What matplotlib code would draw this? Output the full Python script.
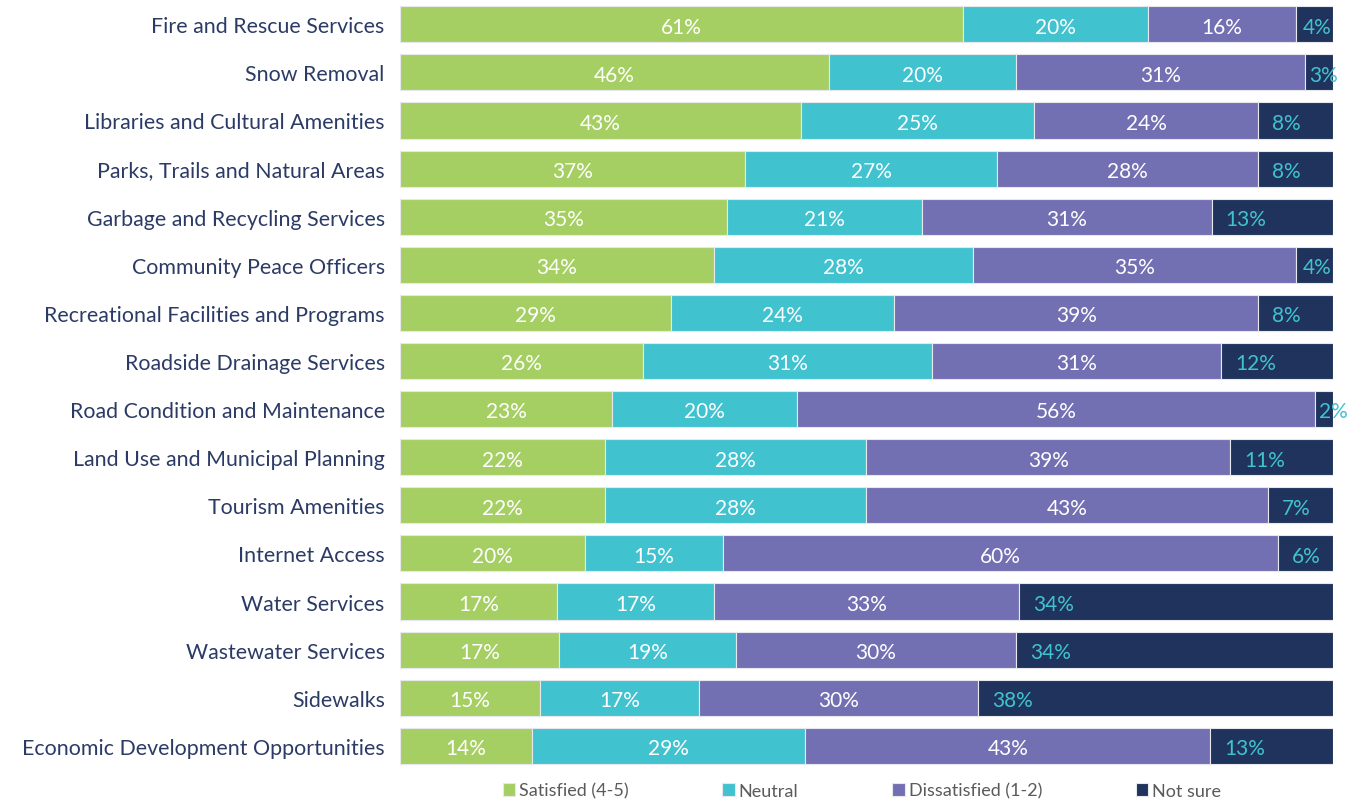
import numpy as np
import matplotlib.pyplot as plt

plt.rcParams['font.family'] = ['Lato', 'DejaVu Sans']

services = [
    "Fire and Rescue Services",
    "Snow Removal",
    "Libraries and Cultural Amenities",
    "Parks, Trails and Natural Areas",
    "Garbage and Recycling Services",
    "Community Peace Officers",
    "Recreational Facilities and Programs",
    "Roadside Drainage Services",
    "Road Condition and Maintenance",
    "Land Use and Municipal Planning",
    "Tourism Amenities",
    "Internet Access",
    "Water Services",
    "Wastewater Services",
    "Sidewalks",
    "Economic Development Opportunities",
]
satisfied = [61, 46, 43, 37, 35, 34, 29, 26, 23, 22, 22, 20, 17, 17, 15, 14]
neutral = [20, 20, 25, 27, 21, 28, 24, 31, 20, 28, 28, 15, 17, 19, 17, 29]
dissatisfied = [16, 31, 24, 28, 31, 35, 39, 31, 56, 39, 43, 60, 33, 30, 30, 43]
not_sure = [4, 3, 8, 8, 13, 4, 8, 12, 2, 11, 7, 6, 34, 34, 38, 13]

series = [
    ("Satisfied (4-5)", satisfied, "#A6CF63", "white"),
    ("Neutral", neutral, "#41C2CF", "white"),
    ("Dissatisfied (1-2)", dissatisfied, "#736FB3", "white"),
    ("Not sure", not_sure, "#1F335C", "#41C2CF"),
]
text_color = "#2B3B66"

fig = plt.figure(figsize=(13.68, 8.03), dpi=100)
ax = fig.add_axes([0.2924, 0.040, 0.682, 0.9585])

data = np.array([s[1] for s in series], dtype=float)
totals = data.sum(axis=0)
y = np.arange(len(services))
left = np.zeros(len(services))
px = 100 / (0.682 * 1368)  # one pixel in data units
for k, (name, vals, color, tcolor) in enumerate(series):
    widths = np.array(vals) / totals * 100
    ax.barh(y, widths, left=left, height=0.75, color=color, label=name,
            edgecolor="#E6E8EE", linewidth=0.8)
    for i, (w, v) in enumerate(zip(widths, vals)):
        if k < len(series) - 1:
            ax.text(left[i] + w / 2, i + 0.05, f"{v}%", ha="center", va="center",
                    color=tcolor, fontsize=15)
        else:
            # last segment: label sits near the segment start
            label_w = (14 if v < 10 else 22) * px + 16 * px
            x0 = left[i] + 14 * px
            if x0 + label_w > 100:
                x0 = max(100 - label_w, left[i] + 4 * px)
            ax.text(x0, i + 0.05, f"{v}%", ha="left", va="center",
                    color=tcolor, fontsize=15)
    left += widths

ax.set_xlim(0, 100)
ax.set_ylim(len(services) - 0.5, -0.5)
ax.set_yticks(y)
ax.set_yticklabels(services, fontsize=15.4, color=text_color)
ax.tick_params(axis="y", length=0, pad=11)
ax.set_xticks([])
for sp in ax.spines.values():
    sp.set_visible(False)

fig.legend(loc="center", bbox_to_anchor=(0.630, 0.014), ncol=4, frameon=False,
           fontsize=13, handlelength=0.7, handleheight=0.7, handletextpad=0.2,
           columnspacing=5.2, labelcolor="#5A5A5A")

fig.savefig("out.png", dpi=100)
